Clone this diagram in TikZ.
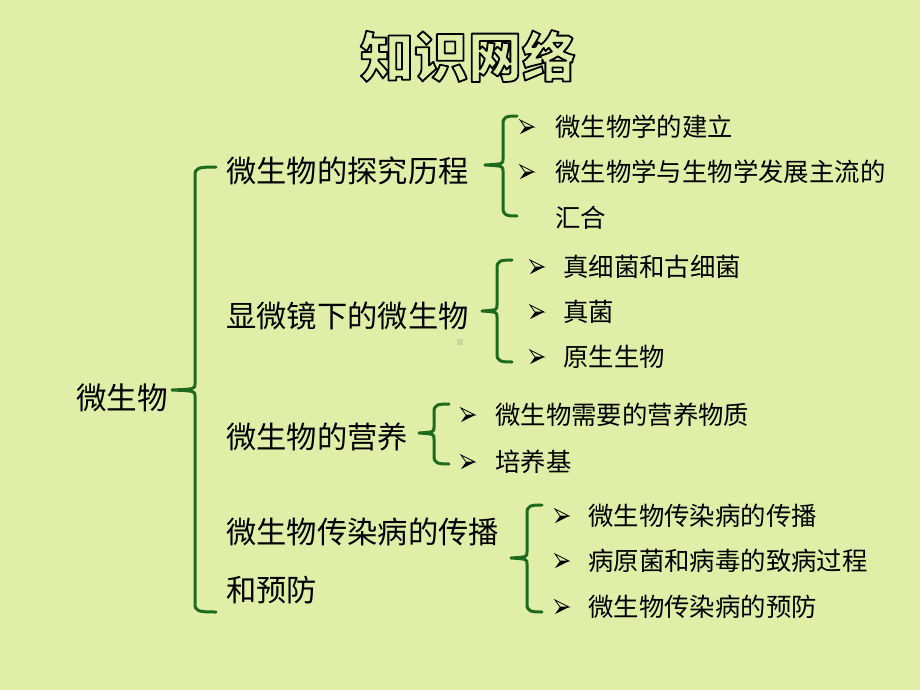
\documentclass[tikz,border=0pt]{standalone}
\usepackage{fontspec}
\newfontfamily\cjk{Noto Sans CJK SC}
\definecolor{bg}{HTML}{E0EEA8}
\definecolor{brg}{HTML}{1E6A1E}
\begin{document}
\begin{tikzpicture}[x=1pt,y=-1pt,
  l0/.style={anchor=west,inner sep=0pt,font=\cjk\fontsize{30.6}{36}\selectfont},
  l1/.style={anchor=west,inner sep=0pt,font=\cjk\fontsize{30.3}{58}\selectfont,align=left},
  l2/.style={anchor=west,inner sep=0pt,font=\cjk\fontsize{25.4}{46}\selectfont,align=left},
  brc/.style={draw=brg,line width=3pt,line cap=round,line join=round},
  bul/.pic={\filldraw[fill=bg,draw=black,line width=0.8pt,line join=miter] (7,0)--(-7,-7)--(-2,0)--cycle;
            \fill[black] (7,0)--(-2,0)--(-7,7)--cycle;}]
\fill[bg] (0,0) rectangle (920,690);
\useasboundingbox (0,0) rectangle (920,690);
\newcommand\brc[6]{\draw[brc] (#6,#2) .. controls (#1+3,#2) and (#1,#2+1) .. (#1,#2+8) -- (#1,#4-6) .. controls (#1,#4-1) .. (#5,#4) .. controls (#1,#4+1) .. (#1,#4+6) -- (#1,#3-8) .. controls (#1,#3-1) and (#1+3,#3) .. (#6,#3);}
% title
\node[inner sep=0pt] (title) at (468,56) {\cjk\bfseries\fontsize{54}{60}\selectfont\color{bg}\special{pdf:literal direct 2 Tr 1.8 w 1 j 0 0 0 RG}知识网络\special{pdf:literal direct 0 Tr}};
% artifact square
\fill[bg!80!gray] (457,339) rectangle (463,345);
% level 0/1
\node[l0] (root) at (76,398) {微生物};
\node[l1] (a) at (226,171) {微生物的探究历程};
\node[l1] (b) at (226,316) {显微镜下的微生物};
\node[l1] (c) at (226,437) {微生物的营养};
\node[l1] (d) at (226,561) {微生物传染病的传播\\和预防};
% braces
\brc{195}{167}{612}{390}{172}{216}
\brc{503}{116}{216}{165}{485}{517}
\brc{497}{260}{362}{311}{482}{512}
\brc{434}{404}{464}{433}{419}{449}
\brc{527}{505}{612}{558}{511}{542}
% group a
\node[l2] (a1) at (555,127) {微生物学的建立};
\node[l2] (a2) at (555,195) {微生物学与生物学发展主流的\\汇合};
\pic at (527,127) {bul};
\pic at (527,172) {bul};
% group b
\node[l2] (b1) at (563,267) {真细菌和古细菌};
\node[l2] (b2) at (563,312) {真菌};
\node[l2] (b3) at (563,357) {原生生物};
\pic at (537,267) {bul};
\pic at (537,312) {bul};
\pic at (537,357) {bul};
% group c
\node[l2] (c1) at (495,415) {微生物需要的营养物质};
\node[l2] (c2) at (495,462) {培养基};
\pic at (468,415) {bul};
\pic at (468,462) {bul};
% group d
\node[l2] (d1) at (588,516) {微生物传染病的传播};
\node[l2] (d2) at (588,561) {病原菌和病毒的致病过程};
\node[l2] (d3) at (588,607) {微生物传染病的预防};
\pic at (562,516) {bul};
\pic at (562,561) {bul};
\pic at (562,607) {bul};
\end{tikzpicture}
\end{document}
